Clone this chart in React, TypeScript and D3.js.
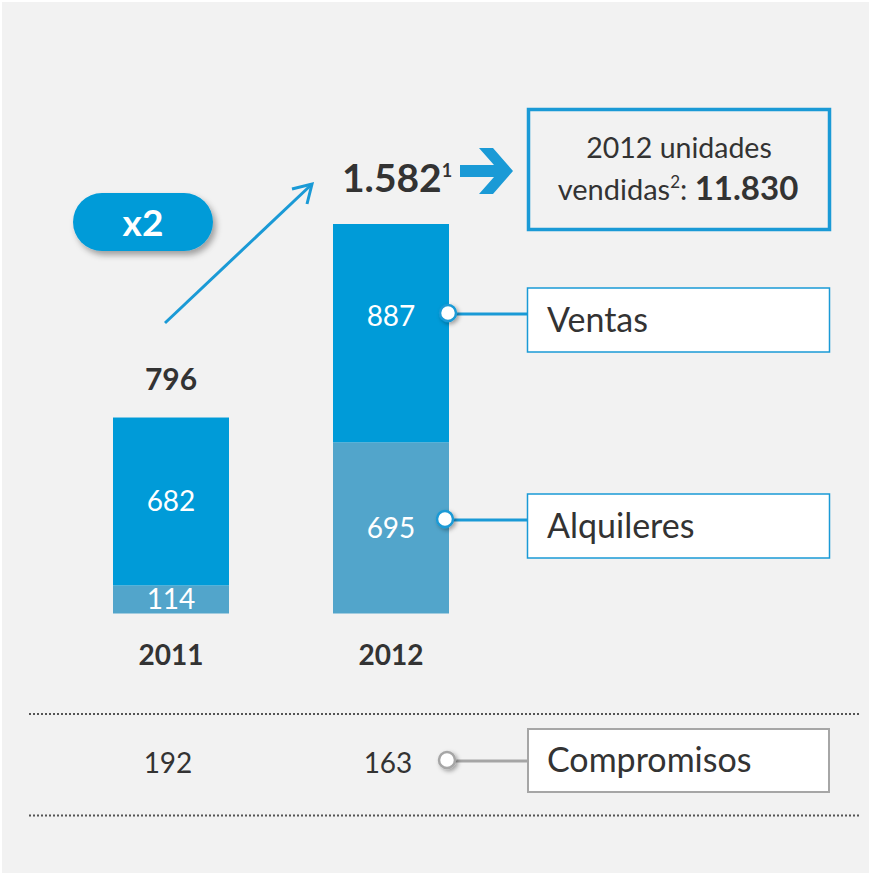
import React from "react";
import * as d3 from "d3";

const years = ["2011", "2012"];
const ventas = [682, 887];
const alquileres = [114, 695];
const totals = [796, 1582];
const compromisos = [192, 163];
const totalLabels = ["796", "1.582"];
const unidadesLabel = "11.830";

const W = 871;
const H = 875;
const FONT = "Lato, 'Open Sans', sans-serif";
const C_VENTAS = "#009bd8";
const C_ALQ = "#52a5cb";
const C_LINE = "#1a9ad6";
const C_TEXT = "#333333";
const C_GRAY = "#a6a6a6";

export default function App() {
  const x = d3.scaleBand<string>().domain(years).range([113, 449]).paddingInner(104 / 220).paddingOuter(0);
  const y = d3.scaleLinear().domain([0, 1582]).range([613.5, 224]);
  const bw = x.bandwidth();
  const cx = (yr: string) => (x(yr) as number) + bw / 2;

  const stacked = years.map((yr, i) => ({
    yr,
    alq: alquileres[i],
    ven: ventas[i],
    total: totals[i],
  }));

  return (
    <svg width={W} height={H} style={{ position: "absolute", left: 0, top: 0 }} fontFamily={FONT}>
      <defs>
        <filter id="sh" x="-50%" y="-50%" width="200%" height="200%">
          <feDropShadow dx="2" dy="2" stdDeviation="2" floodColor="#000" floodOpacity="0.35" />
        </filter>
        <filter id="shp" x="-20%" y="-30%" width="150%" height="180%">
          <feDropShadow dx="3" dy="4" stdDeviation="3" floodColor="#000" floodOpacity="0.35" />
        </filter>
      </defs>
      <rect x={2} y={2} width={W - 4} height={H - 4} fill="#f2f2f2" />

      {/* bars */}
      {stacked.map((d) => (
        <g key={d.yr}>
          <rect x={x(d.yr)} y={y(d.alq)} width={bw} height={y(0) - y(d.alq)} fill={C_ALQ} />
          <rect x={x(d.yr)} y={y(d.alq + d.ven)} width={bw} height={y(d.alq) - y(d.alq + d.ven)} fill={C_VENTAS} />
        </g>
      ))}

      {/* segment labels */}
      <text x={cx("2011")} y={(y(114) + y(796)) / 2 + 10} textAnchor="middle" fontSize={28} fill="#fff">{ventas[0]}</text>
      <text x={cx("2011")} y={(y(0) + y(114)) / 2 + 10} textAnchor="middle" fontSize={28} fill="#fff">{alquileres[0]}</text>
      <text x={cx("2012")} y={326} textAnchor="middle" fontSize={28} fill="#fff">{ventas[1]}</text>
      <text x={cx("2012")} y={(y(0) + y(695)) / 2 + 10} textAnchor="middle" fontSize={28} fill="#fff">{alquileres[1]}</text>

      {/* totals */}
      <text x={cx("2011")} y={y(totals[0]) - 28} textAnchor="middle" fontSize={30} fontWeight="bold" fill={C_TEXT}>{totalLabels[0]}</text>
      <text x={342} y={y(totals[1]) - 32} textAnchor="start" fontSize={39} fontWeight="bold" fill={C_TEXT}>
        {totalLabels[1]}
        <tspan fontSize={18} dx={0} dy={-15}>1</tspan>
      </text>

      {/* year labels */}
      {years.map((yr) => (
        <text key={yr} x={cx(yr)} y={665} textAnchor="middle" fontSize={28} fontWeight="bold" fill={C_TEXT}>{yr}</text>
      ))}

      {/* x2 pill */}
      <rect x={73} y={193} width={140} height={58} rx={29} fill={C_VENTAS} filter="url(#shp)" />
      <text x={143} y={236} textAnchor="middle" fontSize={37} fontWeight="bold" fill="#fff">x2</text>

      {/* diagonal arrow */}
      <g stroke={C_LINE} strokeWidth={3} fill="none" strokeLinecap="butt">
        <line x1={165} y1={323} x2={311} y2={185} />
        <polyline points="292,189 312,184 307,204" strokeLinejoin="miter" />
      </g>

      {/* big chevron arrow */}
      <polygon points="460,165 494,165 479,148 493,148 513,171 493,194 479,194 494,177 460,177" fill={C_LINE} />

      {/* top right box */}
      <rect x={528.5} y={109.5} width={301} height={120} fill="#f2f2f2" stroke={C_LINE} strokeWidth={3.5} />
      <text x={679} y={158} textAnchor="middle" fontSize={28.5} fill={C_TEXT}>2012 unidades</text>
      <text x={678} y={200} textAnchor="middle" fontSize={29} fill={C_TEXT}>
        vendidas<tspan fontSize={17} dy={-12}>2</tspan><tspan dy={12}>: </tspan>
        <tspan fontWeight="bold" fontSize={33}>{unidadesLabel}</tspan>
      </text>

      {/* Ventas connector */}
      <line x1={448} y1={314} x2={527} y2={314} stroke={C_LINE} strokeWidth={3} />
      <circle cx={448} cy={313} r={8} fill="#fff" stroke={C_LINE} strokeWidth={2.5} filter="url(#sh)" />
      <rect x={527.5} y={288} width={302} height={64} fill="#fff" stroke={C_LINE} strokeWidth={1.5} />
      <text x={547} y={332} fontSize={34} fill={C_TEXT}>Ventas</text>

      {/* Alquileres connector */}
      <line x1={445} y1={520} x2={527} y2={520} stroke={C_LINE} strokeWidth={3} />
      <circle cx={445} cy={519} r={8} fill="#fff" stroke={C_LINE} strokeWidth={2.5} filter="url(#sh)" />
      <rect x={527.5} y={494} width={302} height={64} fill="#fff" stroke={C_LINE} strokeWidth={1.5} />
      <text x={547} y={538} fontSize={34} fill={C_TEXT}>Alquileres</text>

      {/* dotted lines */}
      <line x1={29} y1={714} x2={859} y2={714} stroke="#555" strokeWidth={2} strokeDasharray="2,2" />
      <line x1={29} y1={815.5} x2={859} y2={815.5} stroke="#555" strokeWidth={2} strokeDasharray="2,2" />

      {/* compromisos */}
      {years.map((yr, i) => (
        <text key={yr} x={cx(yr) - 3} y={773} textAnchor="middle" fontSize={28} fill={C_TEXT}>{compromisos[i]}</text>
      ))}
      <line x1={447} y1={761} x2={527} y2={761} stroke={C_GRAY} strokeWidth={3} />
      <circle cx={447} cy={760} r={8} fill="#fff" stroke={C_GRAY} strokeWidth={2.5} filter="url(#sh)" />
      <rect x={528} y={729} width={301} height={63} fill="#fff" stroke={C_GRAY} strokeWidth={2} />
      <text x={547} y={772} fontSize={34} fill={C_TEXT}>Compromisos</text>
    </svg>
  );
}
